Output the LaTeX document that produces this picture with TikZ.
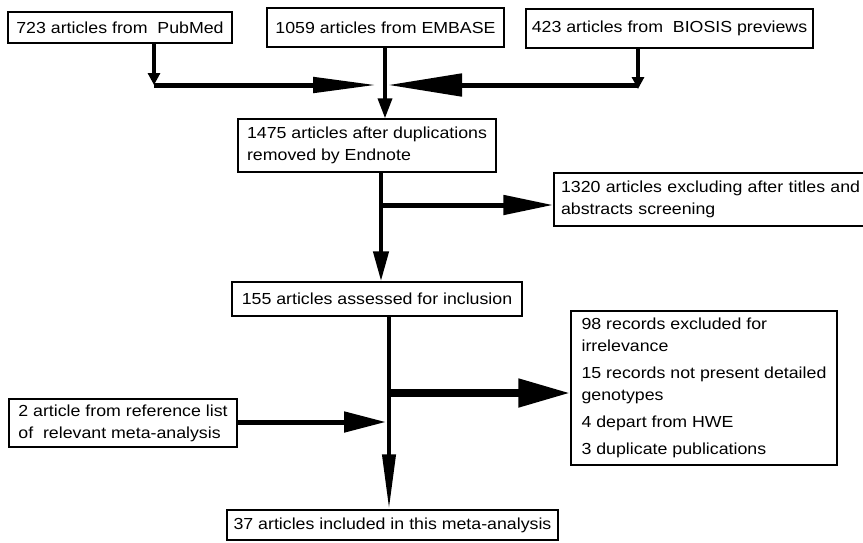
\documentclass[tikz,border=0pt]{standalone}
\usepackage{fontspec}
\setmainfont{Liberation Sans}[FakeStretch=1.11]
\usetikzlibrary{arrows.meta}

\begin{document}
\begin{tikzpicture}[x=1pt, y=-1pt, thick]

    \tikzset{block/.style={%
      draw,%
      rectangle,%
      line width=1.4pt,%
      inner xsep=4pt,%
      inner ysep=0pt,%
      align=left,%
      font=\fontsize{16}{22}\selectfont}%
    };
    \tikzset{flow/.style 2 args={%
      -{Triangle[length=#1, width=#2]}}%
    };

    \tikzset{stem/.style={line width=3.6pt}};
    \tikzset{beam/.style={line width=5pt}};

    \fill[white] (0, 0) rectangle (863, 542);
    \clip (0, 0) rectangle (863, 542);

    %%%%%%%%%%%%%%%
    % sources     %
    %%%%%%%%%%%%%%%
    \path (120, 27.5) node [block, minimum width=224, minimum height=31] (pubmed)
      {723 articles from\ \ PubMed};

    \path (385.5, 27.5) node [block, minimum width=237, minimum height=39] (embase)
      {1059 articles from EMBASE};

    \path (669.5, 28.5) node [block, minimum width=287, minimum height=39] (biosis)
      {423 articles from\ \ BIOSIS previews};

    \path (123, 423) node [block, minimum width=228, minimum height=48] (refs) {
      2 article from reference list \\
      of\ \ relevant meta-analysis
    };

    %%%%%%%%%%%%%%%
    % screening   %
    %%%%%%%%%%%%%%%
    \path (367, 145.5) node [block, minimum width=258, minimum height=53] (dedup) {
      1475 articles after duplications \\
      removed by Endnote
    };

    \path (727, 199.5) node [block, minimum width=346, minimum height=53,
      text width=332, inner xsep=7] (titles) {
      1320 articles excluding after titles and \\
      abstracts screening
    };

    \path (377, 299) node [block, minimum width=290, minimum height=34] (assess)
      {155 articles assessed for inclusion};

    \path (704, 388) node [block, minimum width=266, minimum height=154] (excluded) {
      98 records excluded for \\
      irrelevance \\[5pt]
      15 records not present detailed \\
      genotypes \\[5pt]
      4 depart from HWE \\[5pt]
      3 duplicate publications
    };

    \path (392.5, 525) node [block, minimum width=331, minimum height=30] (included)
      {37 articles included in this meta-analysis};

    % junctions
    \path (154, 85) coordinate (cpub);
    \path (638, 85) coordinate (cbio);
    \path (377, 85) coordinate (jleft);
    \path (388, 85) coordinate (jright);
    \path (385, 85) coordinate (jmid);
    \path (381, 205) coordinate (jdedup);
    \path (389, 393) coordinate (jassess);
    \path (386, 422) coordinate (jrefs);

    \draw [stem, flow={12pt}{12pt}] (pubmed.south -| cpub) -- (cpub);
    \draw [stem, flow={12pt}{12pt}] (biosis.south -| cbio) -- ([yshift=-4pt]cbio);
    \draw [beam, flow={64pt}{15pt}] (cpub) -- (jleft);
    \draw [beam, flow={74pt}{22pt}] (cbio) -- (jright);
    \draw [stem, flow={20pt}{14pt}] (embase.south -| jmid) -- (dedup.north -| jmid);
    \draw [stem, line width=4.4pt, flow={30pt}{15pt}] (dedup.south -| jdedup) -- (assess.north -| jdedup);
    \draw [beam, flow={50pt}{19pt}] (jdedup) -- (titles.west |- jdedup);
    \draw [stem, line width=4pt, flow={55pt}{13pt}] (assess.south -| jassess) -- (included.north -| jassess);
    \draw [beam, line width=8pt, flow={52pt}{27pt}] (jassess) -- (excluded.west |- jassess);
    \draw [beam, flow={42pt}{20pt}] (refs.east |- jrefs) -- (jrefs);

  \end{tikzpicture}
\end{document}
